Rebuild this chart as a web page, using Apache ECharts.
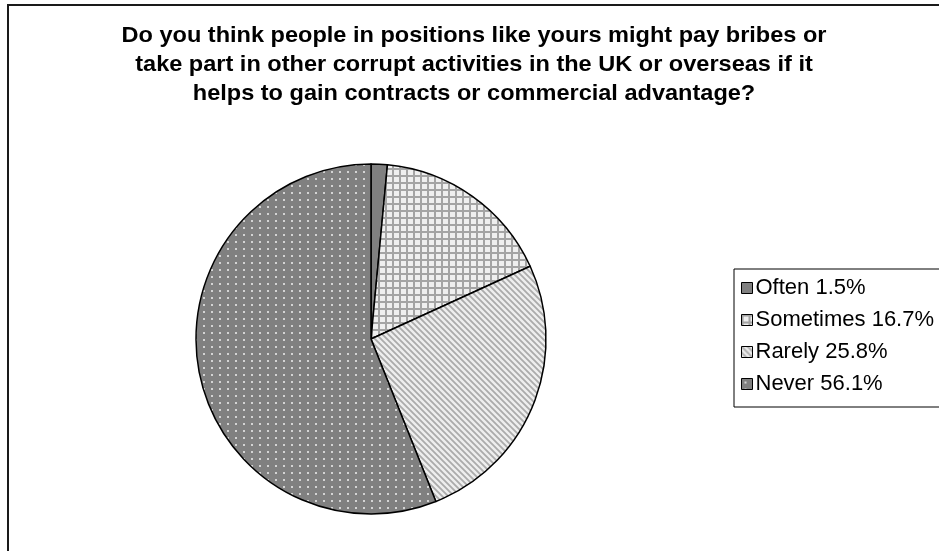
<!DOCTYPE html>
<html>
<head>
<meta charset="utf-8">
<script src="https://cdn.jsdelivr.net/npm/echarts@6/dist/echarts.min.js"></script>
<style>
  html, body { margin: 0; padding: 0; background: #fff; }
  #chart { width: 939px; height: 551px; }
</style>
</head>
<body>
<div id="chart"></div>
<script>
// Survey answers and their shares (%)
const categories = ['Often', 'Sometimes', 'Rarely', 'Never'];
const shares = [1.5, 16.7, 25.8, 56.1];
const titleLines = [
  'Do you think people in positions like yours might pay bribes or',
  'take part in other corrupt activities in the UK or overseas if it',
  'helps to gain contracts or commercial advantage?'
];

// Small repeating tiles used as slice fills
function tile(w, h, draw) {
  const c = document.createElement('canvas');
  c.width = w; c.height = h;
  draw(c.getContext('2d'), w, h);
  return { image: c, repeat: 'repeat' };
}
const gridFill = tile(7, 7, (g, w, h) => {
  g.fillStyle = '#efefef'; g.fillRect(0, 0, w, h);
  g.fillStyle = '#a4a4a4';
  g.fillRect(0, 0, 2, h);
  g.fillRect(0, 0, w, 2);
});
const stripeFill = tile(6, 6, (g, w, h) => {
  g.fillStyle = '#eeeeee'; g.fillRect(0, 0, w, h);
  g.strokeStyle = '#ababab'; g.lineWidth = 1.8;
  g.beginPath();
  g.moveTo(-1, -1); g.lineTo(w + 1, h + 1);
  g.moveTo(-w - 1, -1); g.lineTo(1, h + 1);
  g.moveTo(w - 1, -1); g.lineTo(2 * w + 1, h + 1);
  g.stroke();
});
const dotFill = tile(8, 7, (g, w, h) => {
  g.fillStyle = '#808080'; g.fillRect(0, 0, w, h);
  g.fillStyle = '#d4d4d4'; g.fillRect(3, 3, 2, 2);
});
const fills = ['#808080', gridFill, stripeFill, dotFill];

const pieData = categories.map((name, i) => ({
  name: name,
  value: shares[i],
  itemStyle: { color: fills[i] }
}));

const chart = echarts.init(document.getElementById('chart'), null, { renderer: 'canvas' });
chart.setOption({
  animation: false,
  backgroundColor: '#ffffff',
  graphic: [
    {
      type: 'rect',
      shape: { x: 8, y: 5, width: 1000, height: 600 },
      style: { fill: 'none', stroke: '#1a1a1a', lineWidth: 2 },
      z: -1
    },
    {
      type: 'text',
      x: 474,
      y: 21,
      scaleX: 1.07,
      style: {
        text: titleLines.join('\n'),
        x: 0, y: 0,
        textAlign: 'center',
        textVerticalAlign: 'top',
        font: 'bold 22px "Liberation Sans", Arial, sans-serif',
        lineHeight: 29,
        fill: '#000'
      }
    }
  ],
  legend: {
    orient: 'vertical',
    left: 734,
    top: 269,
    padding: [8, 40, 12, 7],
    borderColor: '#000',
    borderWidth: 1,
    itemWidth: 11,
    itemHeight: 11,
    itemGap: 10,
    icon: 'rect',
    selectedMode: false,
    itemStyle: { borderColor: '#000', borderWidth: 1 },
    textStyle: {
      fontFamily: '"Liberation Sans", Arial, sans-serif',
      fontSize: 22,
      lineHeight: 20,
      color: '#000',
      padding: [0, 0, 0, -2]
    },
    formatter: name => name + ' ' + shares[categories.indexOf(name)] + '%',
    data: categories
  },
  series: [{
    type: 'pie',
    center: [371, 339],
    radius: 175,
    startAngle: 90,
    clockwise: true,
    label: { show: false },
    labelLine: { show: false },
    emphasis: { disabled: true },
    itemStyle: { borderColor: '#000', borderWidth: 1.5 },
    data: pieData
  }]
});
</script>
</body>
</html>
